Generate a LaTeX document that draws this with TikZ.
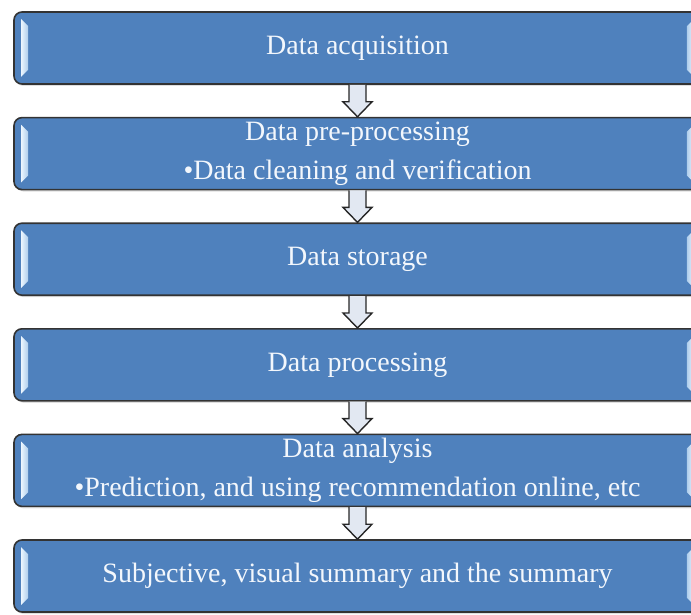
\documentclass[tikz,border=0pt]{standalone}
\usepackage{fontspec}
\setmainfont{Liberation Serif}
\usetikzlibrary{positioning,calc,shadows}

\definecolor{boxblue}{HTML}{4F81BD}
\definecolor{barblue}{HTML}{CDE6FB}
\definecolor{txtwhite}{HTML}{F3F7FC}
\definecolor{arrfill}{HTML}{E2E8F2}

% light bevel bars at both ends of a step box
\newcommand{\sidebars}[1]{%
  \shade[left color=barblue!40!white, right color=barblue!75!boxblue]
    ($(#1.north west)+(8,-8)$) -- ($(#1.north west)+(15,-15)$) --
    ($(#1.south west)+(15,15)$) -- ($(#1.south west)+(8,8)$) -- cycle;
  \shade[right color=barblue!40!white, left color=barblue!75!boxblue]
    ($(#1.north east)+(-8,-8)$) -- ($(#1.north east)+(-15,-15)$) --
    ($(#1.south east)+(-15,15)$) -- ($(#1.south east)+(-8,8)$) -- cycle;
}
% hollow block arrow from one box down to the next
\newcommand{\flowarrow}[2]{%
  \draw[flowarr] ($(#1.south)+(-8.5,0)$) -- ($(#2.north)+(-8.5,15)$) --
    ($(#2.north)+(-14.5,15)$) -- (#2.north) -- ($(#2.north)+(14.5,15)$) --
    ($(#2.north)+(8.5,15)$) -- ($(#1.south)+(8.5,0)$);
}

\begin{document}
\begin{tikzpicture}[x=1pt, y=1pt,
    stepbox/.style={draw=black!80, line width=1.6pt, fill=boxblue, rounded corners=8pt,
      minimum width=687pt, minimum height=72pt, inner sep=0pt, align=center,
      text=txtwhite, font=\fontsize{28}{39}\selectfont,
      drop shadow={shadow xshift=1.5pt, shadow yshift=-2pt, opacity=0.25}},
    flowarr/.style={draw=black!85, line width=1.4pt, fill=arrfill, line join=miter}]
  \useasboundingbox (0,0) rectangle (691,-615);
  \clip (0,0) rectangle (691,-615);

  % the six steps
  \node[stepbox] (acq) at (357.5,-48) {Data acquisition};
  \node[stepbox, below=32pt of acq] (pre) {Data pre-processing\\\textbullet Data cleaning and verification};
  \node[stepbox, below=32pt of pre] (sto) {Data storage};
  \node[stepbox, below=32pt of sto] (proc) {Data processing};
  \node[stepbox, below=32pt of proc] (ana) {Data analysis\\\textbullet Prediction, and using recommendation online, etc};
  \node[stepbox, below=32pt of ana] (summ) {Subjective, visual summary and the summary};

  \foreach \b in {acq, pre, sto, proc, ana, summ} {
      \sidebars{\b}
    }

  % arrows between steps
  \foreach \a/\b in {acq/pre, pre/sto, sto/proc, proc/ana, ana/summ} {
      \flowarrow{\a}{\b}
    }
\end{tikzpicture}
\end{document}
